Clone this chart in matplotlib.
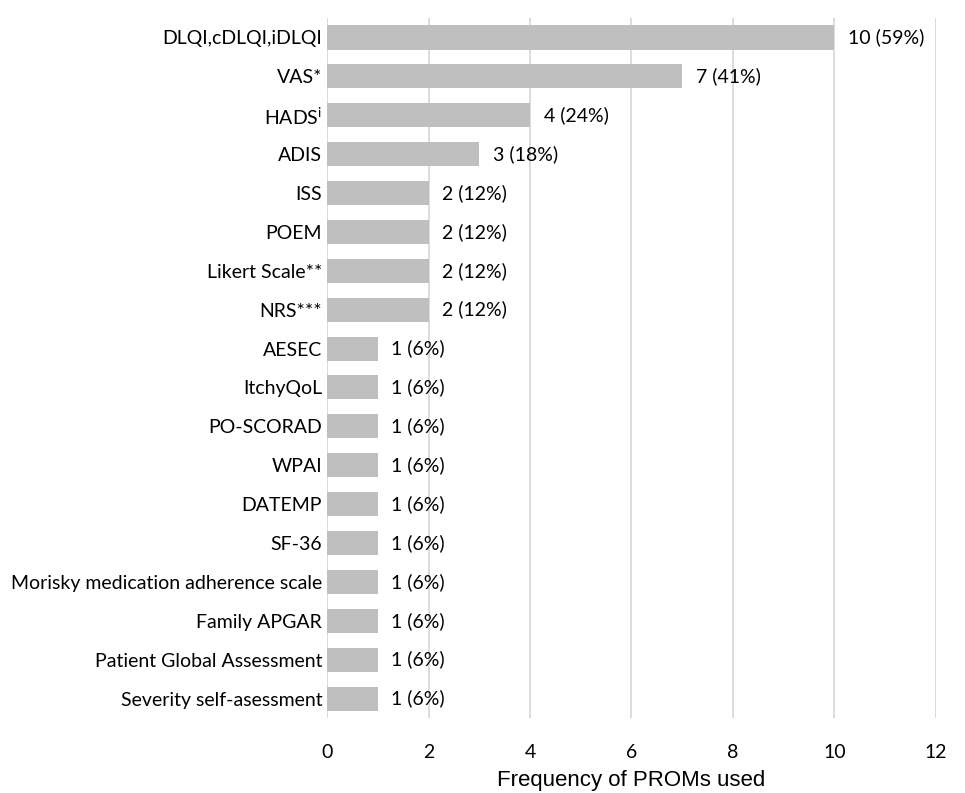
import matplotlib
matplotlib.use("Agg")
import matplotlib.pyplot as plt

categories = ["DLQI,cDLQI,iDLQI", "VAS*", r"HADS$^\mathregular{i}$", "ADIS", "ISS", "POEM",
              "Likert Scale**", "NRS***", "AESEC", "ItchyQoL", "PO-SCORAD", "WPAI",
              "DATEMP", "SF-36", "Morisky medication adherence scale", "Family APGAR",
              "Patient Global Assessment", "Severity self-asessment"]
counts = [10, 7, 4, 3, 2, 2, 2, 2, 1, 1, 1, 1, 1, 1, 1, 1, 1, 1]
percents = [59, 41, 24, 18, 12, 12, 12, 12, 6, 6, 6, 6, 6, 6, 6, 6, 6, 6]
xticks = [0, 2, 4, 6, 8, 10, 12]

plt.rcParams['font.family'] = ['Lato', 'DejaVu Sans']
fig = plt.figure(figsize=(9.65, 7.93), dpi=100)
ax = fig.add_axes([327/965, 75/793, (936-327)/965, 700/793])

y = list(range(len(categories)))
ax.barh(y, counts, height=0.62, color="#bfbfbf", zorder=3)
for yi, c, p in zip(y, counts, percents):
    ax.text(c + 0.27, yi, f"{c} ({p}%)", va="center", ha="left", fontsize=14, color="#000000")

ax.set_xlim(0, 12)
ax.set_ylim(len(categories) - 0.5, -0.5)
ax.set_yticks(y)
ax.set_yticklabels(categories, fontsize=14)
ax.set_xticks(xticks)
ax.set_xticklabels([str(t) for t in xticks], fontsize=14)
ax.tick_params(axis='y', length=0, pad=3.5)
ax.tick_params(axis='x', length=0, pad=19)
ax.grid(axis='x', color="#d9d9d9", linewidth=1.3, zorder=0)
for s in ax.spines.values():
    s.set_visible(False)
fig.text(631.5/965, (793-786)/793, "Frequency of PROMs used", fontsize=16,
         family="Liberation Sans", ha="center", va="baseline")

fig.savefig("out.png", dpi=100)
